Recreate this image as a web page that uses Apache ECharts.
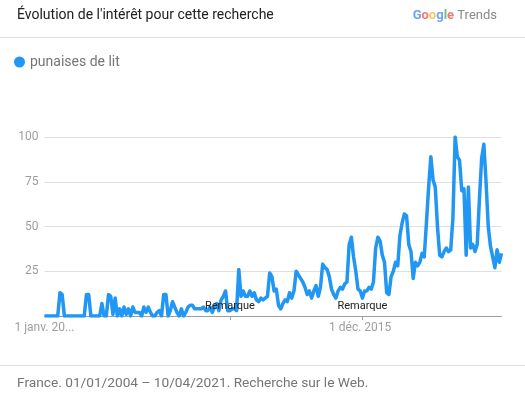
<!DOCTYPE html>
<html><head><meta charset="utf-8">
<script src="https://cdn.jsdelivr.net/npm/echarts@6/dist/echarts.min.js"></script>
<style>html,body{margin:0;padding:0;background:#fff}#c{width:525px;height:397px}</style>
</head><body><div id="c"></div>
<script>
// Monthly interest, Jan 2004 .. Apr 2021 (208 months)
const seriesName = 'punaises de lit';
const interest = [
  0,0,0,0,0,0,0,13,12,0,
  0,0,0,0,0,0,0,0,0,12,
  12,0,0,0,0,0,7,0,0,12,
  11,1,10,0,4,0,5,1,4,0,
  5,2,2,2,0,5,2,5,2,0,
  0,2,3,0,12,12,0,3,8,5,
  2,0,4,0,2,5,6,6,4,4,
  4,4,5,3,3,5,2,5,7,3,
  9,11,14,3,3,4,4,3,26,11,
  14,11,11,14,11,13,9,8,10,9,
  10,11,24,22,14,15,6,4,7,9,
  8,13,10,14,25,23,21,19,16,12,
  14,10,14,17,11,16,29,27,26,22,
  15,12,10,14,16,15,18,19,40,44,
  33,25,15,14,10,14,14,16,15,19,
  38,44,42,34,30,13,12,22,25,30,
  28,45,52,57,56,40,36,21,30,28,
  30,35,33,52,72,89,76,72,50,34,
  33,36,38,36,37,55,100,89,87,70,
  71,34,72,38,40,36,40,65,88,96,
  75,50,39,33,27,37,30,35
];
const startYear = 2004;
const months = [];
for (let i = 0; i < interest.length; i++) {
  const y = startYear + Math.floor(i / 12);
  const m = (i % 12) + 1;
  months.push(y + '-' + (m < 10 ? '0' + m : m));
}
const xTickLabels = { '2004-01': '1 janv. 20...', '2015-12': '1 déc. 2015' };
const noteMonths = ['2011-01', '2016-01'];
const noteText = 'Remarque';
const yTicks = [0, 25, 50, 75, 100];

const chart = echarts.init(document.getElementById('c'), null, { renderer: 'canvas' });
const FONT = 'Roboto, "Noto Sans", sans-serif';
chart.setOption({
  animation: false,
  textStyle: { fontFamily: FONT },
  title: [
    { text: "Évolution de l'intérêt pour cette recherche", left: 12, top: 3,
      textStyle: { fontSize: 14, fontWeight: 'normal', color: '#212121', fontFamily: FONT } },
    { text: '{b|G}{r|o}{y|o}{b|g}{g|l}{r|e} {t|Trends}', right: 23, top: 4,
      textStyle: { fontSize: 13, fontWeight: 'normal', fontFamily: FONT,
        rich: {
          b: { color: '#6fa3f7', fontSize: 13, fontWeight: 'bold', fontFamily: FONT },
          r: { color: '#ef7a6f', fontSize: 13, fontWeight: 'bold', fontFamily: FONT },
          y: { color: '#f9c85a', fontSize: 13, fontWeight: 'bold', fontFamily: FONT },
          g: { color: '#6cbf83', fontSize: 13, fontWeight: 'bold', fontFamily: FONT },
          t: { color: '#8a8a8a', fontSize: 13, fontFamily: FONT }
        } } },
    { text: 'France. 01/01/2004 – 10/04/2021. Recherche sur le Web.', left: 12, top: 372,
      textStyle: { fontSize: 13.7, fontWeight: 'normal', color: '#757575', fontFamily: FONT } }
  ],
  graphic: [
    { type: 'line', shape: { x1: 0, y1: 37.5, x2: 525, y2: 37.5 }, style: { stroke: '#e0e0e0', lineWidth: 1 } },
    { type: 'line', shape: { x1: 0, y1: 365.5, x2: 525, y2: 365.5 }, style: { stroke: '#e0e0e0', lineWidth: 1 } }
  ],
  legend: {
    left: 9, top: 50, icon: 'circle', itemWidth: 11, itemHeight: 11, itemGap: 10,
    textStyle: { fontSize: 14, color: '#757575', fontFamily: FONT, padding: [0, 0, 0, 0] },
    data: [seriesName]
  },
  grid: { left: 44.5, right: 23.5, top: 137, bottom: 81, containLabel: false },
  xAxis: {
    type: 'category', data: months, boundaryGap: false,
    axisLine: { lineStyle: { color: '#9e9e9e', width: 1 } },
    axisTick: { show: true, length: 4, lineStyle: { color: '#9e9e9e' },
      interval: (i, v) => noteMonths.indexOf(v) >= 0 },
    axisLabel: { color: '#9e9e9e', fontSize: 12, margin: 6, fontFamily: FONT,
      interval: (i, v) => xTickLabels[v] !== undefined,
      formatter: v => xTickLabels[v] || '' },
    splitLine: { show: false }
  },
  yAxis: {
    type: 'value', min: yTicks[0], max: yTicks[yTicks.length - 1], interval: 25,
    axisLine: { show: false }, axisTick: { show: false },
    axisLabel: { color: '#9e9e9e', fontSize: 12, margin: 6, fontFamily: FONT,
      formatter: v => (v === 0 ? '' : String(v)) },
    splitLine: { lineStyle: { color: '#e0e0e0', width: 1 } }
  },
  series: [{
    name: seriesName, type: 'line', data: interest, showSymbol: false, symbol: 'circle',
    smooth: false, lineStyle: { color: '#2196f3', width: 3.5, join: 'round' },
    itemStyle: { color: '#2196f3' },
    markPoint: {
      symbol: 'circle', symbolSize: 0, silent: true,
      label: { show: true, position: 'top', distance: 4, color: '#212121', fontSize: 11,
        fontFamily: FONT, formatter: noteText },
      data: noteMonths.map(m => ({ coord: [m, 0] }))
    }
  }]
});
</script></body></html>
